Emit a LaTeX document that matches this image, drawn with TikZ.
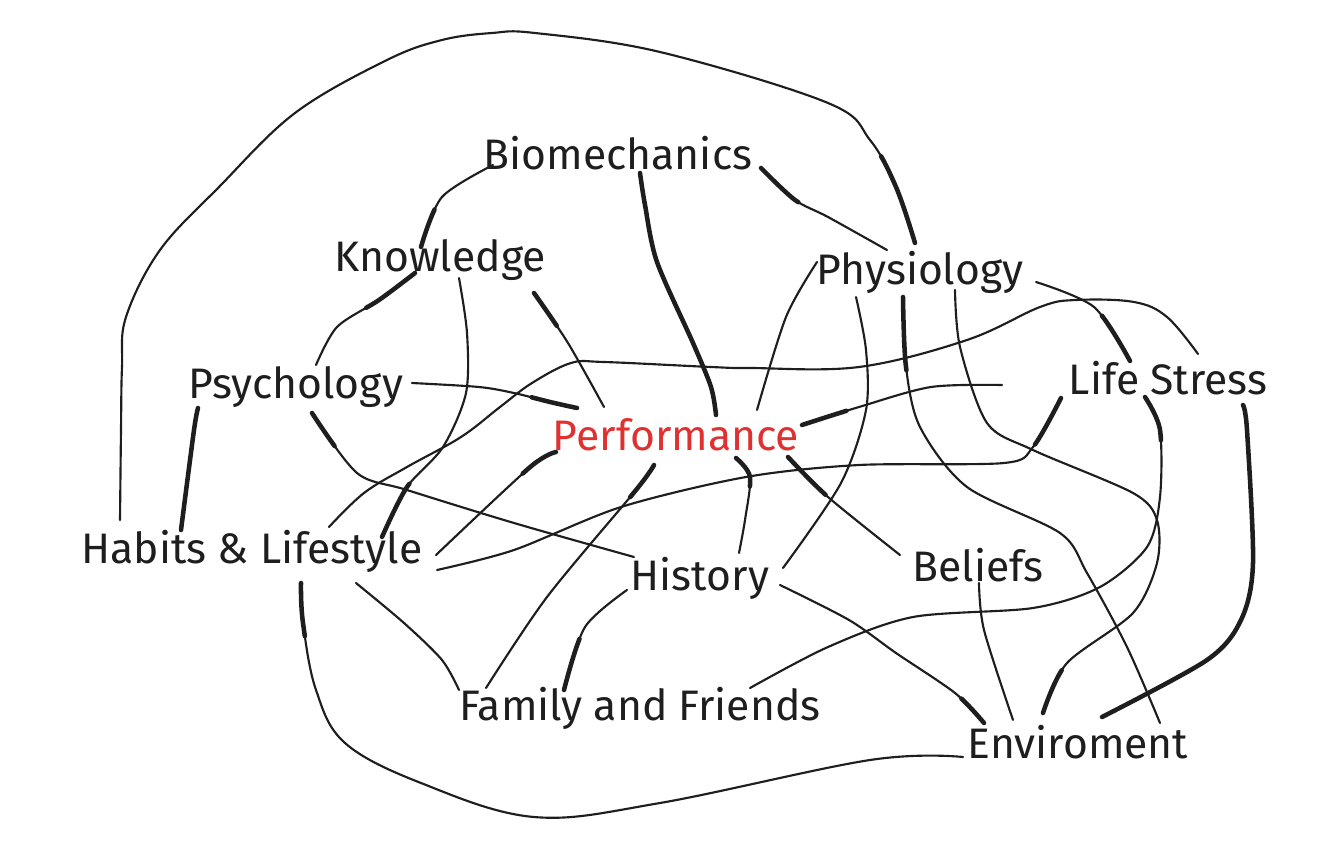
\documentclass[tikz,border=0pt]{standalone}
\usepackage{fontspec}
\setmainfont{Fira Sans}
\usetikzlibrary{calc}
\definecolor{ink}{HTML}{1E1E1E}
\definecolor{accent}{HTML}{E03131}

\begin{document}
\begin{tikzpicture}[
  x=0.75pt, y=-0.75pt,
  concept/.style={
    inner sep=0pt,
    text=ink,
    font=\fontsize{32}{36}\selectfont
  },
  focus/.style={
    concept,
    text=accent
  },
  link/.style={
    draw=ink,
    line width=1.6pt,
    line cap=round,
    line join=round
  },
  heavy link/.style={
    link,
    line width=3.4pt
  },
  strong start/.style={
    preaction={draw=ink, line width=3.4pt, line cap=round, dash pattern=on #1 off 4000pt}
  },
  strong start/.default=30pt
]
\useasboundingbox (0,0) rectangle (1318,860);

\node[concept] (bio)  at (618,153) {Biomechanics};
\node[concept] (know) at (440,260) {Knowledge};
\node[concept] (phys) at (920,272) {Physiology};
\node[concept] (psy)  at (296,387) {Psychology};
\node[concept] (life) at (1168,378) {Life Stress};
\node[focus]   (perf) at (676,435) {Performance};
\node[concept] (hab)  at (252,551) {Habits \& Lifestyle};
\node[concept] (hist) at (700,578) {History};
\node[concept] (bel)  at (978,565) {Beliefs};
\node[concept] (fam)  at (640,708) {Family and Friends};
\node[concept] (env)  at (1078,742) {Enviroment};

% outer loops
\draw[link, strong start=70pt] plot[smooth, tension=0.6] coordinates {($(phys)+(-5,-29)$) (896,187) (870,140) (828,103) (660,52) (535,33) (492,33) (442,40) (387,60) (295,113) (219,187) (160,250) (126,317) (122,367) (121,430) ($(hab)+(-132,-31)$)};
\draw[link, strong start=40pt] plot[smooth, tension=0.6] coordinates {($(hab)+(49,32)$) (303,623) (316,690) (345,743) (421,783) (534,817) (660,803) (870,760) ($(env)+(-115,15)$)};

% from the top
\draw[link, strong start] plot[smooth] coordinates {($(know)+(-19,-13)$) (442,197) ($(bio)+(-125,12)$)};
\draw[heavy link] plot[smooth] coordinates {($(bio)+(22,20)$) (645,205) (657,262) (693,343) (711,387) ($(perf)+(40,-20)$)};
\draw[link, strong start=38pt] plot[smooth] coordinates {($(bio)+(143,15)$) (795,200) (828,217) ($(phys)+(-33,-22)$)};
\draw[link, strong start=45pt] plot[smooth] coordinates {($(know)+(-25,13)$) (379,300) (337,327) ($(psy)+(20,-22)$)};
\draw[link, strong start=45pt] plot[smooth] coordinates {($(hab)+(130,-14)$) (407,487) (443,447) (466,393) (467,333) ($(know)+(19,18)$)};
\draw[link, strong start] plot[smooth] coordinates {($(know)+(94,33)$) (568,343) ($(perf)+(-72,-28)$)};
\draw[link, strong start=35pt] plot[smooth] coordinates {($(perf)+(-99,-27)$) (550,402) (514,393) (479,387) ($(psy)+(116,-4)$)};
\draw[link, strong start] plot[smooth] coordinates {($(psy)+(16,26)$) (357,473) (407,490) (514,523) ($(hist)+(-66,-21)$)};
\draw[heavy link] plot[smooth] coordinates {($(psy)+(-98,21)$) (194,430) ($(hab)+(-71,-21)$)};

% physiology
\draw[link] plot[smooth] coordinates {($(phys)+(-103,-10)$) (786,317) ($(perf)+(81,-25)$)};
\draw[link] plot[smooth] coordinates {($(phys)+(-64,25)$) (866,350) (866,410) (841,483) ($(hist)+(83,-10)$)};
\draw[link, strong start=55pt] plot[smooth] coordinates {($(phys)+(-17,25)$) (906,367) (920,427) (967,487) (1060,533) (1087,573) (1127,647) ($(env)+(82,-19)$)};
\draw[link, strong start=35pt] plot[smooth] coordinates {($(env)+(-35,-29)$) (1067,663) (1133,613) (1157,563) (1157,520) (1133,493) (1033,450) (987,423) (960,347) ($(phys)+(35,18)$)};
\draw[link, strong start=40pt] plot[smooth] coordinates {($(life)+(-38,-17)$) (1094,307) ($(phys)+(116,10)$)};

% life stress
\draw[link] plot[smooth, tension=0.6] coordinates {($(hab)+(77,-24)$) (364,493) (407,467) (461,437) (500,407) (532,383) (571,363) (604,362) (711,367) (750,368) (859,367) (967,340) (1040,307) (1076,300) (1134,302) (1167,317) ($(life)+(30,-24)$)};
\draw[link, strong start=35pt] plot[smooth] coordinates {($(perf)+(126,-10)$) (859,407) (931,387) ($(life)+(-166,7)$)};
\draw[link, strong start=40pt] plot[smooth] coordinates {($(life)+(-107,20)$) (1033,447) (1004,463) (859,465) (746,477) (621,507) (514,550) ($(hab)+(185,19)$)};
\draw[heavy link] plot[smooth] coordinates {($(life)+(75,27)$) (1247,430) (1253,563) (1241,620) (1207,660) ($(env)+(24,-25)$)};
\draw[link, strong start=35pt] plot[smooth] coordinates {($(life)+(-23,19)$) (1160,430) (1160,497) (1147,547) (1100,587) (1033,608) (913,617) (828,647) ($(fam)+(110,-20)$)};

% performance
\draw[link, strong start] plot[smooth] coordinates {($(perf)+(-120,17)$) (529,468) ($(hab)+(184,4)$)};
\draw[link, strong start] plot[smooth] coordinates {($(perf)+(-22,30)$) (636,490) (547,597) ($(fam)+(-154,-20)$)};
\draw[link, strong start=25pt] plot[smooth] coordinates {($(perf)+(60,23)$) (750,477) (745,520) ($(hist)+(39,-25)$)};
\draw[link, strong start=40pt] plot[smooth] coordinates {($(perf)+(112,22)$) (828,497) ($(bel)+(-78,-10)$)};

% lower part
\draw[link, strong start=40pt] plot[smooth] coordinates {($(fam)+(-76,-18)$) (585,627) ($(hist)+(-73,12)$)};
\draw[link, strong start=25pt] plot[smooth] coordinates {($(env)+(-94,-19)$) (955,693) (896,653) (849,620) ($(hist)+(80,7)$)};
\draw[link] plot[smooth] coordinates {($(hab)+(104,32)$) (404,623) (442,660) ($(fam)+(-181,-18)$)};
\draw[link] plot[smooth] coordinates {($(bel)+(1,18)$) (984,630) ($(env)+(-65,-22)$)};
\end{tikzpicture}
\end{document}
